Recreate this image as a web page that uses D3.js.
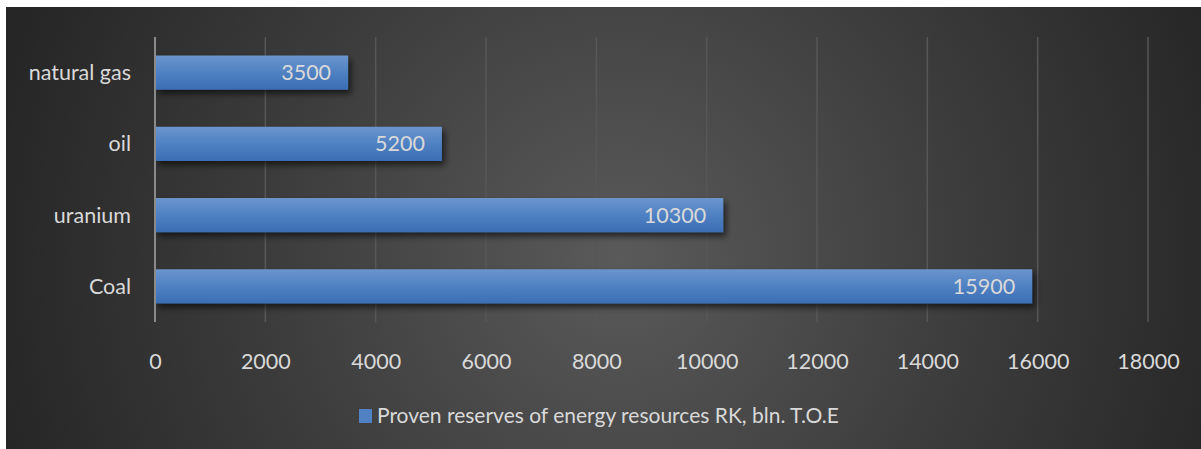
<!DOCTYPE html>
<html>
<head>
<meta charset="utf-8">
<script src="https://cdn.jsdelivr.net/npm/d3@7"></script>
<style>
  html, body { margin: 0; padding: 0; background: #ffffff; }
  svg { display: block; }
  text { font-family: Lato, "Open Sans", sans-serif; fill: #d9d9d9; }
</style>
</head>
<body>
<svg id="chart" width="1201" height="449"></svg>
<script>
// Proven reserves of energy resources, Republic of Kazakhstan (bln. T.O.E)
const categories = ["natural gas", "oil", "uranium", "Coal"];
const reserves = [3500, 5200, 10300, 15900];
const xTicks = [0, 2000, 4000, 6000, 8000, 10000, 12000, 14000, 16000, 18000];
const seriesName = "Proven reserves of energy resources RK, bln. T.O.E";

const W = 1201, H = 449;
const plot = { left: 155, right: 1148, top: 37, bottom: 322 };
const fontSize = "21.5px";

const svg = d3.select("#chart");
const defs = svg.append("defs");

const bg = defs.append("radialGradient")
  .attr("id", "bgGrad")
  .attr("gradientUnits", "userSpaceOnUse")
  .attr("cx", 620).attr("cy", 260).attr("r", 640);
bg.append("stop").attr("offset", 0).attr("stop-color", "#5a5a5a");
bg.append("stop").attr("offset", 0.55).attr("stop-color", "#3c3c3c");
bg.append("stop").attr("offset", 1).attr("stop-color", "#262626");

const barGrad = defs.append("linearGradient")
  .attr("id", "barGrad").attr("x1", 0).attr("y1", 0).attr("x2", 0).attr("y2", 1);
barGrad.append("stop").attr("offset", 0).attr("stop-color", "#6b95cd");
barGrad.append("stop").attr("offset", 0.5).attr("stop-color", "#4f81c3");
barGrad.append("stop").attr("offset", 1).attr("stop-color", "#3b6db4");

const shadow = defs.append("filter").attr("id", "barShadow")
  .attr("x", "-5%").attr("y", "-30%").attr("width", "115%").attr("height", "180%");
shadow.append("feDropShadow")
  .attr("dx", 3).attr("dy", 4).attr("stdDeviation", 3)
  .attr("flood-color", "#000").attr("flood-opacity", 0.6);

svg.append("rect")
  .attr("x", 6).attr("y", 7).attr("width", W - 6).attr("height", H - 7)
  .attr("fill", "url(#bgGrad)");

const x = d3.scaleLinear().domain([0, 18000]).range([plot.left, plot.right]);
const y = d3.scaleBand().domain(categories).range([plot.top, plot.bottom]).paddingInner(0.52).paddingOuter(0.26);

// vertical gridlines
svg.append("g").selectAll("line")
  .data(xTicks.filter(t => t > 0))
  .join("line")
  .attr("x1", d => x(d)).attr("x2", d => x(d))
  .attr("y1", plot.top).attr("y2", plot.bottom)
  .attr("stroke", "#575757").attr("stroke-width", 1.5);

// x tick labels
const xAxis = d3.axisBottom(x).tickValues(xTicks).tickSize(0).tickPadding(0).tickFormat(d3.format("d"));
const gx = svg.append("g").attr("transform", `translate(0, ${plot.bottom + 47})`).call(xAxis);
gx.select(".domain").remove();
gx.selectAll("text")
  .attr("dy", 0)
  .style("font-size", fontSize)
  .style("fill", "#d9d9d9");

// category labels
const yAxis = d3.axisLeft(y).tickSize(0).tickPadding(0);
const gy = svg.append("g").attr("transform", `translate(${plot.left - 24}, 0)`).call(yAxis);
gy.select(".domain").remove();
gy.selectAll("text")
  .attr("dy", "0.35em")
  .style("font-size", fontSize)
  .style("fill", "#d9d9d9");

// bars
svg.append("g").selectAll("rect")
  .data(categories.map((c, i) => ({ c, v: reserves[i] })))
  .join("rect")
  .attr("x", x(0))
  .attr("y", d => y(d.c))
  .attr("width", d => x(d.v) - x(0))
  .attr("height", y.bandwidth())
  .attr("fill", "url(#barGrad)")
  .attr("filter", "url(#barShadow)");

// value labels, inside the bar end
svg.append("g").selectAll("text")
  .data(categories.map((c, i) => ({ c, v: reserves[i] })))
  .join("text")
  .attr("x", d => x(d.v) - 17)
  .attr("y", d => y(d.c) + y.bandwidth() / 2)
  .attr("dy", "0.35em")
  .attr("text-anchor", "end")
  .style("font-size", fontSize)
  .text(d => d.v);

// zero axis line
svg.append("line")
  .attr("x1", x(0)).attr("x2", x(0))
  .attr("y1", plot.top).attr("y2", plot.bottom)
  .attr("stroke", "#8a8a8a").attr("stroke-width", 2);

// legend
const lg = svg.append("g");
lg.append("rect").attr("x", 359).attr("y", 409).attr("width", 13).attr("height", 14).attr("fill", "#4f81c3");
lg.append("text").attr("x", 377).attr("y", 423).style("font-size", "21px").text(seriesName);
</script>
</body>
</html>
